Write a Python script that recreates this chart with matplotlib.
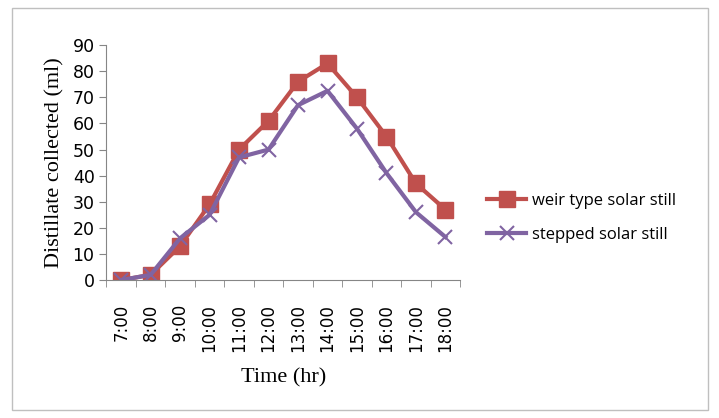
import matplotlib.pyplot as plt
import numpy as np
from matplotlib.patches import Rectangle

# hourly readings
hours = ['7:00', '8:00', '9:00', '10:00', '11:00', '12:00',
         '13:00', '14:00', '15:00', '16:00', '17:00', '18:00']
weir = [0, 2, 13, 29, 50, 61, 76, 83, 70, 55, 37, 27]
stepped = [0, 2, 16, 25, 47, 50, 67, 72.5, 58, 41, 26, 16.5]

fig = plt.figure(figsize=(7.19, 4.18), dpi=100)
fig.patches.append(Rectangle((0.017, 0.02), 0.968, 0.96, transform=fig.transFigure,
                             fill=False, edgecolor='#bfbfbf', linewidth=1))
ax = fig.add_axes([0.148, 0.33, 0.492, 0.562])

x = np.arange(len(hours))
ax.plot(x, weir, color='#c0504d', lw=3, marker='s', markersize=11,
        label='weir type solar still')
ax.plot(x, stepped, color='#8064a2', lw=3, marker='x', markersize=10,
        markeredgewidth=1.5, label='stepped solar still')

ax.set_xlim(-0.5, len(hours) - 0.5)
ax.set_ylim(0, 90)
ax.set_yticks(range(0, 91, 10))
ax.set_xticks(x)
ax.set_xticklabels(hours, rotation=90, fontsize=12, family='DejaVu Sans')
ax.set_xticks(np.arange(-0.5, len(hours), 1), minor=True)
ax.tick_params(axis='x', which='major', length=0, pad=17)
ax.tick_params(axis='x', which='minor', length=5, color='#868686')
ax.tick_params(axis='y', length=5, color='#868686', labelsize=12.5)
for lbl in ax.get_yticklabels():
    lbl.set_family('DejaVu Sans')

for s in ['top', 'right']:
    ax.spines[s].set_visible(False)
for s in ['left', 'bottom']:
    ax.spines[s].set_color('#868686')

ax.set_ylabel('Distillate collected (ml)', family='Liberation Serif', fontsize=16,
              labelpad=6)
ax.set_xlabel('Time (hr)', family='Liberation Serif', fontsize=16, labelpad=12)

fig.legend(loc='upper left', bbox_to_anchor=(0.657, 0.575), frameon=False,
           prop={'family': 'Open Sans', 'size': 12}, handlelength=2.3,
           labelspacing=1.1, handletextpad=0.4)

fig.savefig('out.png', dpi=100)
